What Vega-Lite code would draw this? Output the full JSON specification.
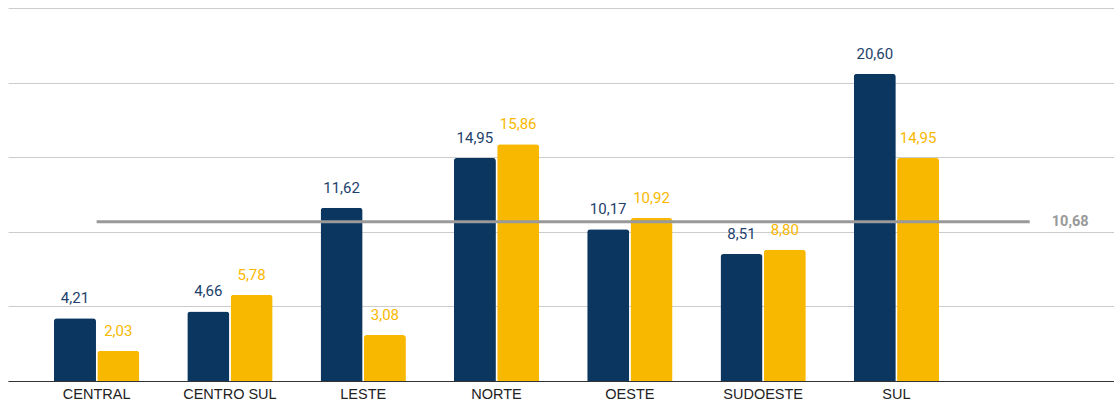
{
  "$schema": "https://vega.github.io/schema/vega-lite/v6.json",
  "autosize": {"type": "fit", "contains": "padding"},
  "width": 1114,
  "height": 405,
  "padding": {"left": 8, "right": 0, "top": 8, "bottom": 4},
  "background": "white",
  "config": {
    "view": {"stroke": null},
    "font": "Roboto",
    "locale": {"number": {"decimal": ",", "thousands": ".", "grouping": [3], "currency": ["R$", ""]}}
  },
  "datasets": {
    "bars": [
      {"regiao": "CENTRAL", "serie": "A", "valor": 4.21},
      {"regiao": "CENTRAL", "serie": "B", "valor": 2.03},
      {"regiao": "CENTRO SUL", "serie": "A", "valor": 4.66},
      {"regiao": "CENTRO SUL", "serie": "B", "valor": 5.78},
      {"regiao": "LESTE", "serie": "A", "valor": 11.62},
      {"regiao": "LESTE", "serie": "B", "valor": 3.08},
      {"regiao": "NORTE", "serie": "A", "valor": 14.95},
      {"regiao": "NORTE", "serie": "B", "valor": 15.86},
      {"regiao": "OESTE", "serie": "A", "valor": 10.17},
      {"regiao": "OESTE", "serie": "B", "valor": 10.92},
      {"regiao": "SUDOESTE", "serie": "A", "valor": 8.51},
      {"regiao": "SUDOESTE", "serie": "B", "valor": 8.80},
      {"regiao": "SUL", "serie": "A", "valor": 20.60},
      {"regiao": "SUL", "serie": "B", "valor": 14.95}
    ],
    "media": [
      {"regiao": "CENTRAL", "valor": 10.68, "rotulo": false},
      {"regiao": "_", "valor": 10.68, "rotulo": true}
    ]
  },
  "layer": [
    {
      "data": {"name": "bars"},
      "mark": {"type": "bar", "cornerRadiusTopLeft": 3, "cornerRadiusTopRight": 3},
      "encoding": {
        "x": {
          "field": "regiao", "type": "nominal", "sort": null,
          "scale": {"domain": ["CENTRAL", "CENTRO SUL", "LESTE", "NORTE", "OESTE", "SUDOESTE", "SUL", "_"], "paddingInner": 0.36, "paddingOuter": 0.3285, "align": 0.525},
          "axis": {
            "title": null, "labelAngle": 0, "ticks": false, "domain": true,
            "domainColor": "#333333", "domainWidth": 1,
            "labelFontSize": 14.5, "labelColor": "#222222", "labelFont": "Liberation Sans",
            "labelPadding": 6,
            "labelExpr": "datum.label == '_' ? '' : datum.label"
          }
        },
        "xOffset": {"field": "serie", "type": "nominal", "scale": {"paddingInner": 0.03}},
        "y": {
          "field": "valor", "type": "quantitative",
          "scale": {"domain": [0, 25], "nice": false},
          "axis": {"title": null, "labels": false, "ticks": false, "domain": false, "values": [0, 5, 10, 15, 20, 25], "gridColor": "#cccccc", "gridWidth": 1}
        },
        "color": {"field": "serie", "type": "nominal", "scale": {"domain": ["A", "B"], "range": ["#0a3660", "#f9b800"]}, "legend": null}
      }
    },
    {
      "data": {"name": "bars"},
      "mark": {"type": "text", "baseline": "alphabetic", "dy": -15, "fontSize": 15, "font": "Roboto"},
      "encoding": {
        "x": {"field": "regiao", "type": "nominal", "sort": null},
        "xOffset": {"field": "serie", "type": "nominal"},
        "y": {"field": "valor", "type": "quantitative"},
        "text": {"field": "valor", "type": "quantitative", "format": ".2f"},
        "color": {"field": "serie", "type": "nominal", "scale": {"domain": ["A", "B"], "range": ["#1e426c", "#f9b800"]}, "legend": null}
      }
    },
    {
      "data": {"name": "media"},
      "transform": [{"filter": "datum.rotulo"}],
      "mark": {"type": "rule", "color": "#dddddd", "strokeWidth": 1},
      "encoding": {
        "x": {"field": "regiao", "type": "nominal", "sort": null},
        "x2": {"field": "regiao"},
        "x2Offset": {"value": 20},
        "y": {"field": "valor", "type": "quantitative"}
      }
    },
    {
      "data": {"name": "media"},
      "mark": {"type": "line", "color": "#999999", "strokeWidth": 3},
      "encoding": {
        "x": {"field": "regiao", "type": "nominal", "sort": null},
        "y": {"field": "valor", "type": "quantitative"}
      }
    },
    {
      "data": {"name": "media"},
      "transform": [{"filter": "datum.rotulo"}],
      "mark": {"type": "text", "align": "left", "baseline": "middle", "dx": 22, "fontSize": 14.5, "fontWeight": "bold", "color": "#999999", "font": "Roboto"},
      "encoding": {
        "x": {"field": "regiao", "type": "nominal", "sort": null},
        "y": {"field": "valor", "type": "quantitative"},
        "text": {"field": "valor", "type": "quantitative", "format": ".2f"}
      }
    }
  ],
  "resolve": {"scale": {"color": "independent"}}
}
